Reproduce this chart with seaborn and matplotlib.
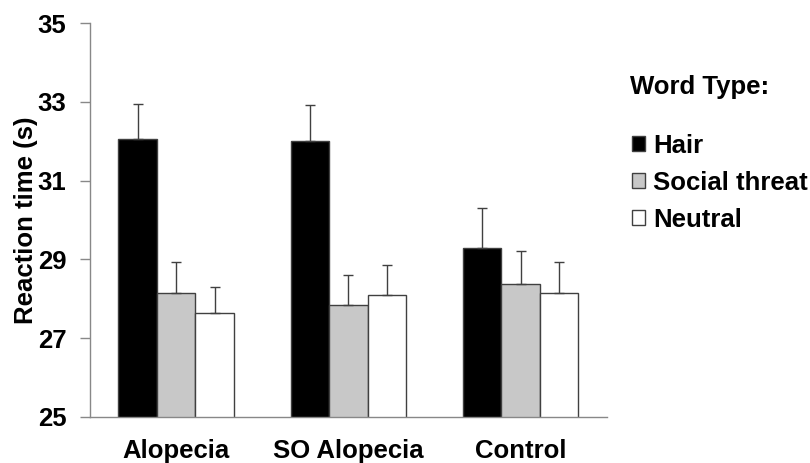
import matplotlib
matplotlib.use("Agg")
import matplotlib.pyplot as plt
import seaborn as sns
import pandas as pd
import numpy as np
from matplotlib.patches import Patch

groups = ["Alopecia", "SO Alopecia", "Control"]
word_types = ["Hair", "Social threat", "Neutral"]
hair = [32.07, 32.01, 29.30]
social = [28.16, 27.84, 28.37]
neutral = [27.65, 28.09, 28.16]
hair_err = [0.87, 0.91, 1.01]
social_err = [0.77, 0.77, 0.84]
neutral_err = [0.64, 0.77, 0.77]
colors = ["#000000", "#c8c8c8", "#ffffff"]
yticks = [25, 27, 29, 31, 33, 35]

rows = []
for wt, vals, errs in zip(word_types, [hair, social, neutral], [hair_err, social_err, neutral_err]):
    for g, v, e in zip(groups, vals, errs):
        rows.append({"Group": g, "Word Type": wt, "RT": v, "err": e})
df = pd.DataFrame(rows)

sns.set_theme(style="white")
plt.rcParams["font.family"] = ["Liberation Sans", "DejaVu Sans"]
plt.rcParams["font.weight"] = "bold"
plt.rcParams["text.color"] = "black"
plt.rcParams["axes.labelcolor"] = "black"

FS = 18.5

fig = plt.figure(figsize=(8.1, 4.63), dpi=100)
ax = fig.add_axes([0.111, 0.0994, 0.638, 0.8506])

sns.barplot(data=df, x="Group", y="RT", hue="Word Type", order=groups,
            hue_order=word_types, palette=colors, errorbar=None,
            width=0.67, gap=0, edgecolor="#404040", linewidth=1.0,
            saturation=1, ax=ax, legend=False)

# error bars (upper only) at each bar
for wt_i, wt in enumerate(word_types):
    cont = ax.containers[wt_i]
    sub = df[df["Word Type"] == wt].set_index("Group").loc[groups]
    xs = [p.get_x() + p.get_width() / 2 for p in cont.patches]
    ax.errorbar(xs, sub["RT"].values,
                yerr=[np.zeros(len(xs)), sub["err"].values],
                fmt="none", ecolor="#404040", elinewidth=1.0, capsize=3.5,
                capthick=1.0, zorder=1)

ax.set_ylim(25, 35)
ax.set_xlim(-0.5, 2.5)
ax.set_yticks(yticks)
ax.set_yticklabels([str(t) for t in yticks], fontsize=FS, fontweight="bold")
ax.set_xticks(range(len(groups)))
ax.set_xticklabels(groups, fontsize=FS, fontweight="bold")
ax.set_xlabel("")
ax.set_ylabel("Reaction time (s)", fontsize=FS, fontweight="bold", labelpad=0)

for s in ["top", "right"]:
    ax.spines[s].set_visible(False)
for s in ["left", "bottom"]:
    ax.spines[s].set_color("#888888")
    ax.spines[s].set_linewidth(1.0)
ax.tick_params(axis="y", which="major", left=True, length=7, width=1.0,
               color="#888888", pad=10, labelcolor="black")
ax.tick_params(axis="x", bottom=False, pad=10, labelcolor="black")

fig.text(0.778, 0.812, "Word Type:", fontsize=FS, fontweight="bold",
         ha="left", va="center", color="black")
handles = [Patch(facecolor=c, edgecolor="#404040", linewidth=1.0) for c in colors]
leg = fig.legend(handles, word_types, loc="upper left",
                 bbox_to_anchor=(0.768, 0.733), frameon=False,
                 prop={"size": FS, "weight": "bold"},
                 handlelength=0.5, handleheight=0.5, handletextpad=0.3,
                 labelspacing=0.5, borderaxespad=0)

fig.savefig("out.png", dpi=100, facecolor="white")
